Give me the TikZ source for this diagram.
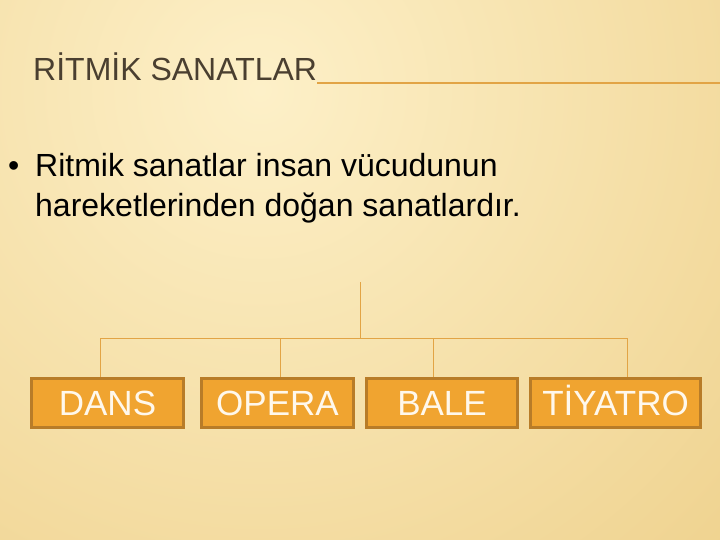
\documentclass[tikz,border=0pt]{standalone}
\usepackage{fontspec}
\setmainfont{Liberation Sans}
\definecolor{bglight}{HTML}{FDF0C8}
\definecolor{bgdark}{HTML}{EED08A}
\definecolor{titlecol}{HTML}{4A3F30}
\definecolor{linecol}{HTML}{E2A445}
\definecolor{boxfill}{HTML}{F0A430}
\definecolor{boxdraw}{HTML}{B87C28}
\definecolor{boxtext}{HTML}{FFF8EC}
\tikzset{
  catbox/.style={draw=boxdraw, fill=boxfill, line width=3pt, minimum height=49pt,
    inner sep=0pt, text height=25pt, text depth=0pt, text=boxtext,
    font=\fontsize{35}{40}\selectfont},
  treeline/.style={draw=linecol, line width=0.9pt},
}
\begin{document}
\begin{tikzpicture}[x=1pt,y=-1pt]
\useasboundingbox (0,0) rectangle (720,540);
\begin{scope}
  \clip (0,0) rectangle (720,540);
  \shade[inner color=bglight, outer color=bgdark] (260,90) circle (720);
\end{scope}
% title
\node[anchor=base west, inner sep=0pt, text=titlecol, font=\fontsize{32}{38}\selectfont] (title) at (33,81) {RİTMİK SANATLAR};
\draw[draw=linecol, line width=2pt] (title.base east) ++(0,2) coordinate (ul) -- (720,83);
% bullet text
\node[anchor=base west, inner sep=0pt, font=\fontsize{32}{38}\selectfont] (bul) at (8,177) {•};
\node[anchor=base west, inner sep=0pt, font=\fontsize{32}{38}\selectfont] (l1) at (35,177) {Ritmik sanatlar insan vücudunun};
\node[anchor=base west, inner sep=0pt, font=\fontsize{32}{38}\selectfont] (l2) at (35,216.5) {hareketlerinden doğan sanatlardır.};
% boxes
\node[catbox, minimum width=152pt] (dans) at (107.5,403) {DANS};
\node[catbox, minimum width=152pt] (opera) at (277.5,403) {OPERA};
\node[catbox, minimum width=151pt] (bale) at (442,403) {BALE};
\node[catbox, minimum width=170pt] (tiyatro) at (615.5,403) {TİYATRO};
% tree
\coordinate (root) at (360,282);
\coordinate (hub) at (360,338);
\coordinate (j1) at (100,338);
\coordinate (j2) at (280,338);
\coordinate (j3) at (433,338);
\coordinate (j4) at (627,338);
\draw[treeline] (root) -- (hub);
\draw[treeline] (j1) -- (j4);
\draw[treeline] (j1) -- (j1 |- dans.north);
\draw[treeline] (j2) -- (j2 |- opera.north);
\draw[treeline] (j3) -- (j3 |- bale.north);
\draw[treeline] (j4) -- (j4 |- tiyatro.north);
\end{tikzpicture}
\end{document}
